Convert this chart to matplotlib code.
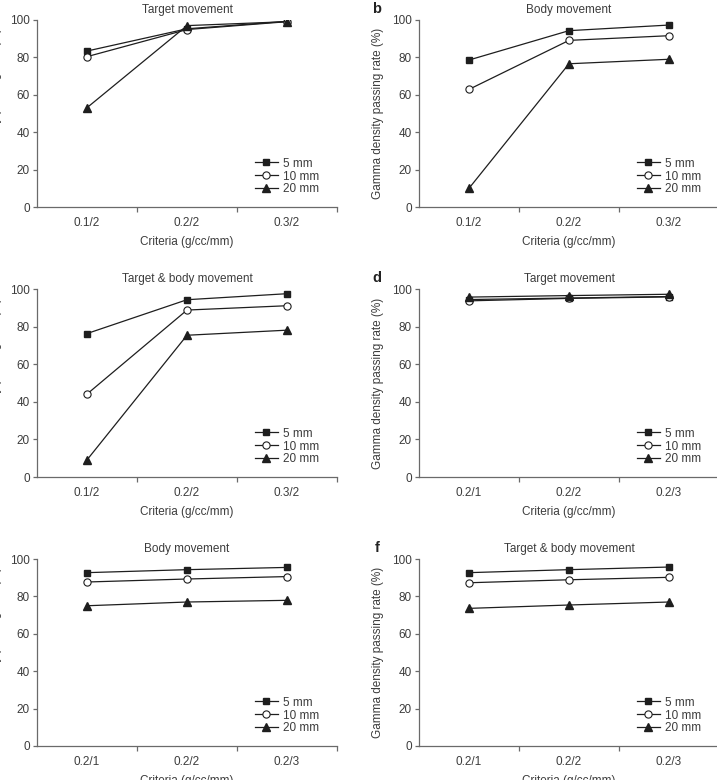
import matplotlib.pyplot as plt
import numpy as np

plt.rcParams['font.family'] = ['Liberation Sans', 'DejaVu Sans']

# criteria labels
crit_dta = ["0.1/2", "0.2/2", "0.3/2"]
crit_dd = ["0.2/1", "0.2/2", "0.2/3"]
sizes = ["5 mm", "10 mm", "20 mm"]

# passing rates (%) for 5, 10, 20 mm
a_5 = [83.4, 95.3, 99.3]
a_10 = [80.4, 94.9, 99.1]
a_20 = [53.1, 97.0, 99.1]

b_5 = [78.6, 94.3, 97.3]
b_10 = [62.9, 89.1, 91.6]
b_20 = [10.0, 76.6, 79.0]

c_5 = [76.3, 94.3, 97.5]
c_10 = [44.1, 88.8, 91.1]
c_20 = [9.1, 75.4, 78.1]

d_5 = [94.4, 95.2, 96.0]
d_10 = [93.7, 95.0, 95.8]
d_20 = [95.7, 96.5, 97.2]

e_5 = [92.7, 94.3, 95.5]
e_10 = [87.7, 89.3, 90.6]
e_20 = [75.0, 77.0, 77.9]

f_5 = [92.7, 94.3, 95.7]
f_10 = [87.3, 88.9, 90.2]
f_20 = [73.6, 75.4, 77.0]

panels = [
    ("", "Target movement", crit_dta, [a_5, a_10, a_20]),
    ("b", "Body movement", crit_dta, [b_5, b_10, b_20]),
    ("", "Target & body movement", crit_dta, [c_5, c_10, c_20]),
    ("d", "Target movement", crit_dd, [d_5, d_10, d_20]),
    ("", "Body movement", crit_dd, [e_5, e_10, e_20]),
    ("f", "Target & body movement", crit_dd, [f_5, f_10, f_20]),
]

W, H = 717, 780
fig = plt.figure(figsize=(W / 100, H / 100), dpi=100)

# axes boxes in pixels: left edges, (top, bottom) per row
lefts = [37, 419]
rows = [(20, 207), (289, 477), (559, 746)]
axw = 300

text_col = "#3c3c3c"
line_col = "#1e1e1e"
spine_col = "#6a6a6a"

markers = [
    dict(marker="s", markersize=4.4, markerfacecolor=line_col, markeredgecolor=line_col),
    dict(marker="o", markersize=5.2, markerfacecolor="white", markeredgecolor=line_col, markeredgewidth=0.8),
    dict(marker="^", markersize=5.8, markerfacecolor=line_col, markeredgecolor=line_col),
]

for i, (letter, title, crit, series) in enumerate(panels):
    col, row = i % 2, i // 2
    top, bot = rows[row]
    ax = fig.add_axes([lefts[col] / W, 1 - bot / H, axw / W, (bot - top) / H])
    x = np.arange(len(crit))
    for s, lab, mk in zip(series, sizes, markers):
        ax.plot(x, s, color=line_col, lw=0.9, label=lab, **mk)

    ax.set_xlim(-0.5, 2.5)
    ax.set_ylim(0, 100)
    ax.set_yticks([0, 20, 40, 60, 80, 100])
    ax.set_xticks(x)
    ax.set_xticklabels(crit)
    ax.set_xticks([0.5, 1.5, 2.5], minor=True)
    ax.tick_params(axis="x", which="major", length=0, pad=7, labelsize=8.5, labelcolor=text_col)
    ax.tick_params(axis="x", which="minor", length=3.5, width=0.9, color=spine_col)
    ax.tick_params(axis="y", length=3, width=0.9, color=spine_col, pad=2, labelsize=8.5,
                   labelcolor=text_col)
    for sp in ["top", "right"]:
        ax.spines[sp].set_visible(False)
    for sp in ["left", "bottom"]:
        ax.spines[sp].set_color(spine_col)
        ax.spines[sp].set_linewidth(0.9)

    ax.set_title(title, fontsize=8.5, color=text_col, pad=5)
    ax.set_xlabel("Criteria (g/cc/mm)", fontsize=8.5, color=text_col, labelpad=5)
    ax.set_ylabel("Gamma density passing rate (%)", fontsize=8.5, color=text_col, labelpad=6)

    leg = ax.legend(loc="lower right", bbox_to_anchor=(0.96, 0.03), frameon=False,
                    fontsize=8.5, handlelength=2.0, handletextpad=0.4, labelspacing=0.08,
                    borderpad=0)
    for t in leg.get_texts():
        t.set_color(text_col)

    if letter:
        ax.text(-0.14, 1.06, letter, transform=ax.transAxes, fontsize=10.5,
                fontweight="bold", color="#222222", ha="center", va="center")

plt.savefig("out.png", dpi=100)
